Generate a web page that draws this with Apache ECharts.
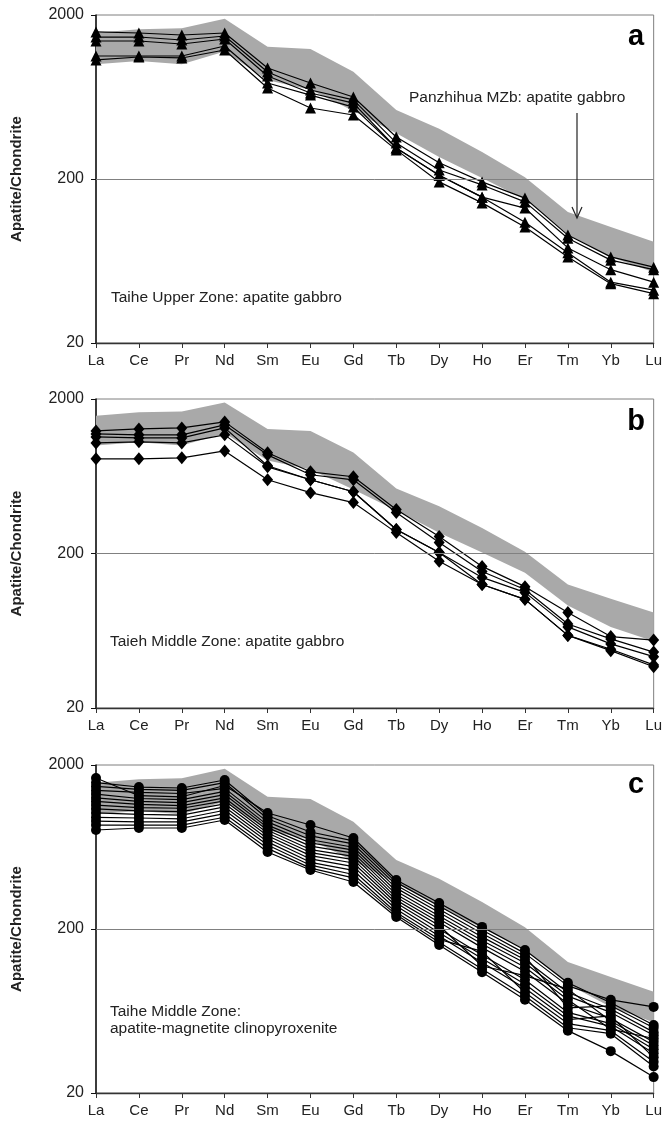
<!DOCTYPE html>
<html>
<head>
<meta charset="utf-8">
<script src="https://cdn.jsdelivr.net/npm/echarts@6/dist/echarts.min.js"></script>
<style>
html, body { margin: 0; padding: 0; background: #fff; }
#chart { width: 665px; height: 1125px; }
</style>
</head>
<body>
<div id="chart"></div>
<script>
// REE order on the x axis
const elements = ['La', 'Ce', 'Pr', 'Nd', 'Sm', 'Eu', 'Gd', 'Tb', 'Dy', 'Ho', 'Er', 'Tm', 'Yb', 'Lu'];
const yTicks = [20, 200, 2000];

// Panzhihua MZb apatite gabbro field (grey band)
const bandUpper = [1560, 1640, 1660, 1900, 1280, 1240, 900, 527, 405, 292, 205, 126, 102, 83];
const bandLower = [1000, 1050, 1000, 1200, 800, 700, 520, 380, 272, 203, 150, 92, 67, 54];

// a: Taihe Upper Zone apatite gabbro
const upperZone = [
	[1576, 1553, 1510, 1553, 950, 770, 632, 361, 251, 192, 153, 91, 67, 58],
	[1468, 1468, 1408, 1489, 898, 698, 607, 332, 227, 184, 145, 87, 64, 56],
	[1388, 1388, 1331, 1428, 849, 669, 581, 309, 211, 155, 133, 76, 56, 47],
	[1125, 1125, 1125, 1294, 770, 650, 549, 309, 211, 155, 109, 71, 47, 42],
	[1064, 1109, 1094, 1224, 718, 542, 491, 301, 192, 143, 102, 67, 46, 40],
];

// b: Taihe Middle Zone apatite gabbro
const middleGabbro = [
	[1243, 1281, 1300, 1422, 897, 676, 628, 385, 258, 165, 122, 83, 58, 55],
	[1189, 1172, 1172, 1359, 870, 647, 600, 368, 236, 153, 117, 70, 56, 46],
	[1137, 1120, 1120, 1300, 740, 600, 502, 286, 203, 140, 112, 67, 52, 43],
	[1040, 1056, 1040, 1172, 728, 600, 502, 286, 203, 126, 101, 59, 48, 38],
	[820, 820, 832, 923, 600, 495, 427, 273, 178, 126, 101, 59, 47, 37],
];

// c: Taihe Middle Zone apatite-magnetite clinopyroxenite
const middleCpx = [
	[1666, 1300, 1280, 1500, 1019, 861, 718, 398, 288, 206, 149, 94, 71, 52],
	[1560, 1468, 1448, 1620, 980, 781, 690, 385, 276, 197, 142, 90, 74, 67],
	[1480, 1420, 1400, 1560, 940, 740, 660, 370, 264, 188, 136, 66, 68, 50],
	[1400, 1360, 1340, 1440, 900, 700, 630, 355, 252, 179, 130, 82, 65, 47],
	[1330, 1250, 1230, 1380, 860, 670, 605, 340, 240, 170, 124, 78, 62, 45],
	[1260, 1200, 1180, 1320, 830, 640, 580, 325, 230, 162, 117, 74, 49, 43],
	[1200, 1150, 1130, 1260, 800, 610, 555, 312, 220, 154, 110, 70, 57, 41],
	[1140, 1100, 1090, 1210, 770, 585, 530, 300, 210, 119, 104, 86, 55, 39],
	[1080, 1050, 1040, 1160, 740, 560, 505, 288, 200, 139, 98, 62, 53, 37],
	[1020, 1000, 990, 1110, 710, 535, 480, 276, 190, 132, 92, 59, 51, 35],
	[960, 950, 940, 1060, 680, 510, 455, 264, 181, 125, 87, 56, 59, 33],
	[910, 900, 900, 1010, 650, 490, 430, 252, 173, 146, 82, 53, 48, 31],
	[860, 860, 860, 960, 620, 470, 410, 244, 166, 114, 78, 50, 46, 29],
	[803, 826, 826, 924, 590, 458, 387, 237, 160, 109, 74, 48, 36, 25],
];

const FONT = '"Liberation Sans", Arial, sans-serif';

const panels = [
	{ rows: upperZone, symbol: 'triangle', size: 11, top: 15, height: 328 },
	{ rows: middleGabbro, symbol: 'diamond', size: [11, 13], top: 399, height: 309 },
	{ rows: middleCpx, symbol: 'circle', size: 10, top: 765, height: 328 },
];

const grid = [];
const xAxis = [];
const yAxis = [];
const series = [];

panels.forEach((p, i) => {
	grid.push({
		left: 96, width: 559, top: p.top, height: p.height,
		show: true, borderColor: '#7f7f7f', borderWidth: 1, backgroundColor: 'transparent',
	});
	xAxis.push({
		type: 'category', gridIndex: i, data: elements, boundaryGap: false,
		axisLine: { lineStyle: { color: '#333', width: 1.3 } },
		axisTick: { show: true, length: 5, lineStyle: { color: '#333' } },
		axisLabel: { color: '#222', fontSize: 15, fontFamily: FONT, margin: 10 },
		splitLine: { show: false },
	});
	yAxis.push({
		type: 'log', gridIndex: i, logBase: 10, min: 20, max: 2000,
		name: 'Apatite/Chondrite', nameLocation: 'middle', nameGap: 72, nameRotate: 90,
		nameTextStyle: { fontSize: 15, fontWeight: 'bold', color: '#222', fontFamily: FONT },
		axisLine: { show: true, lineStyle: { color: '#111', width: 1.5 } },
		axisTick: { show: true, length: 5, customValues: yTicks, lineStyle: { color: '#111' } },
		axisLabel: {
			color: '#222', fontSize: 16, fontFamily: FONT, margin: 12, customValues: yTicks,
			formatter: (v) => String(Math.round(v)),
		},
		splitLine: { show: false },
	});

	// grey field: invisible lower edge + stacked thickness
	series.push({
		type: 'line', xAxisIndex: i, yAxisIndex: i, stack: 'band' + i,
		data: bandLower, symbol: 'none', lineStyle: { width: 0, opacity: 0 },
		silent: true, z: 1,
		markLine: {
			silent: true, symbol: 'none', label: { show: false },
			lineStyle: { color: '#808080', width: 1, type: 'solid' },
			data: [{ yAxis: 200 }],
		},
	});
	series.push({
		type: 'line', xAxisIndex: i, yAxisIndex: i, stack: 'band' + i,
		data: bandUpper.map((v, k) => v - bandLower[k]), symbol: 'none',
		lineStyle: { width: 0, opacity: 0 },
		areaStyle: { color: '#a9a9a9', opacity: 1 },
		silent: true, z: 1,
	});

	p.rows.forEach((row) => {
		series.push({
			type: 'line', xAxisIndex: i, yAxisIndex: i, data: row,
			symbol: p.symbol, symbolSize: p.size, showSymbol: true,
			lineStyle: { color: '#000', width: 1.2 },
			itemStyle: { color: '#000', borderWidth: 0 },
			emphasis: { disabled: true }, z: 3,
		});
	});
});

const txt = (x, y, text, extra) => ({
	type: 'text', x, y, z: 10,
	style: Object.assign({ text, fill: '#222', font: '15.5px ' + FONT, align: 'left', verticalAlign: 'middle' }, extra || {}),
});

const graphic = [
	txt(636, 37, 'a', { font: 'bold 29px ' + FONT, align: 'center', fill: '#000' }),
	txt(636, 422, 'b', { font: 'bold 29px ' + FONT, align: 'center', fill: '#000' }),
	txt(636, 785, 'c', { font: 'bold 29px ' + FONT, align: 'center', fill: '#000' }),
	txt(409, 98, 'Panzhihua MZb: apatite gabbro'),
	txt(111, 298, 'Taihe Upper Zone: apatite gabbro'),
	txt(110, 642, 'Taieh Middle Zone: apatite gabbro'),
	txt(110, 1012, 'Taihe Middle Zone:'),
	txt(110, 1029, 'apatite-magnetite clinopyroxenite'),
	{ type: 'line', z: 10, shape: { x1: 577, y1: 113, x2: 577, y2: 217 }, style: { stroke: '#222', lineWidth: 1.2 } },
	{ type: 'polyline', z: 10, shape: { points: [[572, 207], [577, 218], [582, 207]] }, style: { stroke: '#222', lineWidth: 1.2, fill: null } },
];

const chart = echarts.init(document.getElementById('chart'), null, { renderer: 'canvas' });
chart.setOption({
	animation: false,
	backgroundColor: '#fff',
	grid, xAxis, yAxis, series, graphic,
});
</script>
</body>
</html>
